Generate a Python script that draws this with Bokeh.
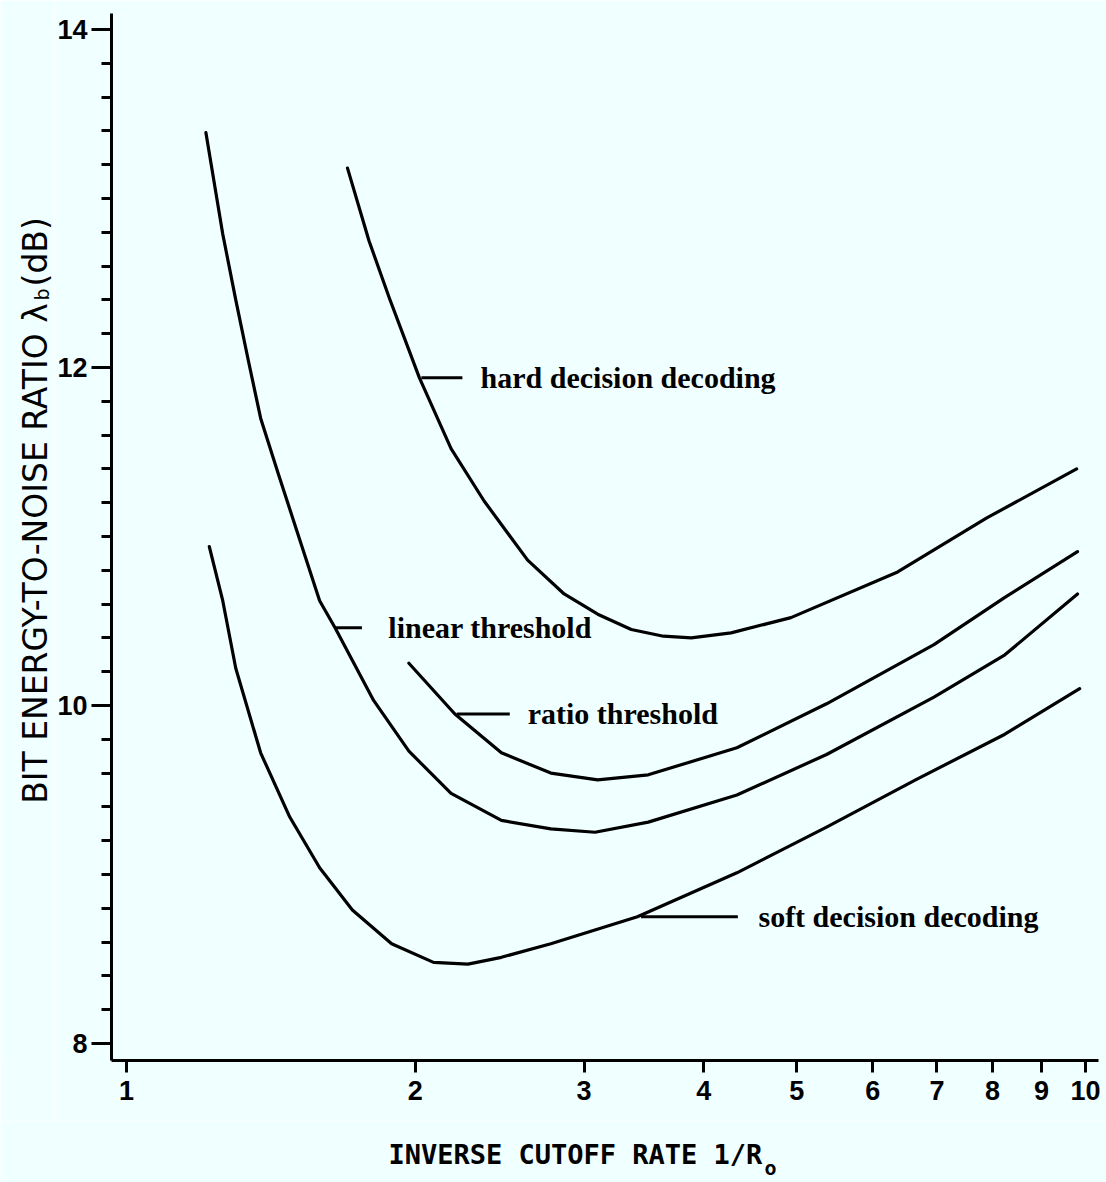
import math
from bokeh.plotting import figure
from bokeh.layouts import row, column
from bokeh.models import (Range1d, FixedTicker, SingleIntervalTicker,
                          PrintfTickFormatter, ColumnDataSource)
from bokeh.core.properties import value
from bokeh.embed import file_html
from bokeh.resources import INLINE

# ---------------- data ----------------
hard_x = [1.70, 1.79, 1.88, 2.02, 2.18, 2.36, 2.62, 2.86, 3.10, 3.36, 3.63, 3.88, 4.27, 4.93, 6.37, 7.89, 9.79]
hard_y = [13.18, 12.75, 12.41, 11.94, 11.52, 11.21, 10.86, 10.66, 10.54, 10.45, 10.41, 10.40, 10.43, 10.52, 10.79, 11.11, 11.40]

linear_x = [1.21, 1.26, 1.30, 1.34, 1.38, 1.44, 1.52, 1.59, 1.65, 1.81, 1.97, 2.18, 2.46, 2.77, 3.08, 3.50, 4.33, 5.37, 6.95, 8.24, 9.81]
linear_y = [13.39, 12.79, 12.40, 12.04, 11.70, 11.37, 10.96, 10.62, 10.46, 10.03, 9.73, 9.48, 9.32, 9.27, 9.25, 9.31, 9.47, 9.71, 10.05, 10.30, 10.66]

ratio_x = [1.97, 2.20, 2.46, 2.77, 3.10, 3.50, 4.33, 5.37, 6.95, 8.24, 9.81]
ratio_y = [10.25, 9.95, 9.72, 9.60, 9.56, 9.59, 9.75, 10.01, 10.36, 10.64, 10.91]

soft_x = [1.22, 1.26, 1.30, 1.38, 1.48, 1.59, 1.72, 1.89, 2.09, 2.27, 2.46, 2.77, 3.41, 4.33, 5.37, 6.65, 8.24, 9.86]
soft_y = [10.94, 10.62, 10.22, 9.72, 9.34, 9.04, 8.79, 8.59, 8.48, 8.47, 8.51, 8.59, 8.75, 9.01, 9.28, 9.56, 9.83, 10.10]

curve_labels = ["hard decision decoding", "linear threshold", "ratio threshold", "soft decision decoding"]
leader_x0 = [2.03, 1.65, 2.21, 3.44]
leader_x1 = [2.24, 1.76, 2.51, 4.34]
leader_y = [11.94, 10.46, 9.95, 8.75]
label_x = [2.34, 1.875, 2.62, 4.56]

x_ticks = [1, 2, 3, 4, 5, 6, 7, 8, 9, 10]

x_title = "INVERSE CUTOFF RATE 1/R"
x_title_sub = "o"
y_title = "BIT ENERGY-TO-NOISE RATIO λ"
y_title_sub = "b"
y_title_unit = "(dB)"

BG = "#f0ffff"
TOTAL_W, MAIN_H, LEFT_W, BOTTOM_H = 1106, 1120, 54, 62
FRAME_L = LEFT_W + 56          # page x of the y axis
FRAME_R = TOTAL_W - 8


def blank(w, h):
    f = figure(width=w, height=h, x_range=Range1d(0, w), y_range=Range1d(0, h),
               x_axis_location=None, y_axis_location=None,
               min_border=0, output_backend="svg", toolbar_location=None)
    f.background_fill_color = BG
    f.border_fill_color = BG
    f.outline_line_color = None
    f.xgrid.visible = False
    f.ygrid.visible = False
    return f


# ---------------- main plot ----------------
p = figure(width=TOTAL_W - LEFT_W, height=MAIN_H, x_axis_type="log",
           x_range=Range1d(10 ** ((FRAME_L - 125) / 960), 10 ** ((FRAME_R - 125) / 960)),
           y_range=Range1d(8 - 17 / 169, 8 + 1030 / 169),
           min_border_left=56, min_border_right=8, min_border_top=13, min_border_bottom=60,
           output_backend="svg", toolbar_location=None)
p.background_fill_color = BG
p.border_fill_color = BG
p.outline_line_color = None
p.xgrid.visible = False
p.ygrid.visible = False

xa = p.xaxis[0]
xa.ticker = FixedTicker(ticks=x_ticks, minor_ticks=[])
xa.formatter = PrintfTickFormatter(format="%d")
xa.axis_line_width = 3
xa.major_tick_line_width = 3
xa.major_tick_out = 12
xa.major_tick_in = 0
xa.minor_tick_line_color = None
xa.major_label_standoff = 8
xa.major_label_text_font = "Liberation Sans"
xa.major_label_text_font_style = "bold"
xa.major_label_text_font_size = "27px"
xa.major_label_text_color = "black"

ya = p.yaxis[0]
ya.ticker = SingleIntervalTicker(interval=2, num_minor_ticks=10)
ya.formatter = PrintfTickFormatter(format="%d")
ya.axis_line_width = 3
ya.major_tick_line_width = 3
ya.minor_tick_line_width = 3
ya.major_tick_out = 20
ya.major_tick_in = 0
ya.minor_tick_out = 10
ya.minor_tick_in = 0
ya.major_label_standoff = 4
ya.major_label_text_font = "Liberation Sans"
ya.major_label_text_font_style = "bold"
ya.major_label_text_font_size = "27px"
ya.major_label_text_color = "black"

for xs, ys in [(hard_x, hard_y), (linear_x, linear_y), (ratio_x, ratio_y), (soft_x, soft_y)]:
    p.line(xs, ys, line_color="black", line_width=3.2, line_join="round", line_cap="round")

p.segment(x0=leader_x0, y0=leader_y, x1=leader_x1, y1=leader_y, line_color="black", line_width=3)
src = ColumnDataSource(dict(x=label_x, y=leader_y, t=curve_labels))
p.text(x="x", y="y", text="t", source=src, text_font=value("Liberation Serif"),
       text_font_style="bold", text_font_size="30px", text_baseline="middle",
       text_align="left", text_color="black")

# ---------------- y-axis title strip ----------------
left = blank(LEFT_W, MAIN_H)
rot = math.pi / 2
left.text(x=[35], y=[MAIN_H - 310], text=[y_title], angle=rot,
          text_font=value("DejaVu Sans"), text_font_size="33px",
          text_align="right", text_baseline="middle", text_color="black")
left.text(x=[41], y=[MAIN_H - 307], text=[y_title_sub], angle=rot,
          text_font=value("DejaVu Sans"), text_font_size="19px",
          text_align="left", text_baseline="middle", text_color="black")
left.text(x=[35], y=[MAIN_H - 292], text=[y_title_unit], angle=rot,
          text_font=value("DejaVu Sans"), text_font_size="33px",
          text_align="left", text_baseline="middle", text_color="black")

# ---------------- x-axis title strip ----------------
H_ALL = MAIN_H + BOTTOM_H
bottom = blank(TOTAL_W, BOTTOM_H)
bottom.text(x=[388], y=[H_ALL - 1154], text=[x_title],
            text_font=value("DejaVu Sans Mono"), text_font_style="bold", text_font_size="27px",
            text_align="left", text_baseline="middle", text_color="black")
bottom.text(x=[764], y=[H_ALL - 1167], text=[x_title_sub],
            text_font=value("DejaVu Sans Mono"), text_font_style="bold", text_font_size="20px",
            text_align="left", text_baseline="middle", text_color="black")

layout = column(row(left, p), bottom)
open("out.html", "w").write(file_html(layout, INLINE))
